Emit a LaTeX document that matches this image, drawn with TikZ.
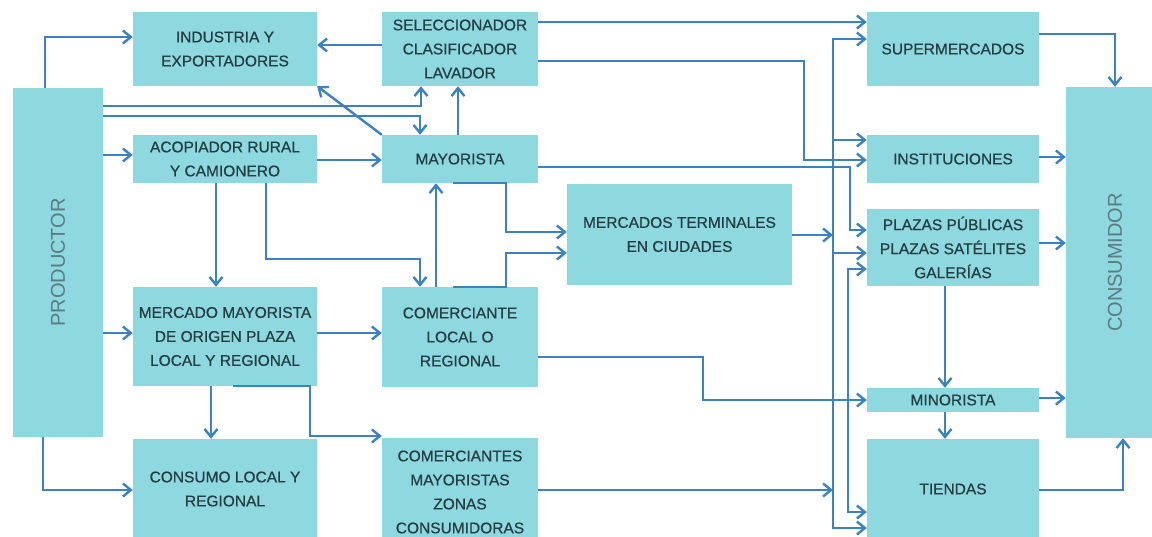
\documentclass[tikz,border=0pt]{standalone}
\usepackage{fontspec}
\setmainfont{Liberation Sans}
\usetikzlibrary{arrows.meta}
\definecolor{boxfill}{HTML}{8ED8E0}
\definecolor{linec}{HTML}{3A82C2}
\definecolor{txt}{HTML}{243F44}
\definecolor{txtl}{HTML}{5A7C82}
\begin{document}
\begin{tikzpicture}[x=1pt, y=-1pt,
  box/.style={rectangle, fill=boxfill, draw=none, inner sep=0pt, align=center, text=txt,
    font=\fontsize{15.5}{24}\selectfont\addfontfeature{FakeBold=0.7}},
  arr/.style={draw=linec, line width=2.4pt, line join=miter, -{Straight Barb[length=8pt,width=13pt]}},
  arrb/.style={draw=linec, line width=2.4pt, {Straight Barb[length=8pt,width=13pt]}-{Straight Barb[length=8pt,width=13pt]}}]
\useasboundingbox (0,0) rectangle (1152,536);
\clip (0,0) rectangle (1152,536);
\fill[white] (0,0) rectangle (1152,536);

% boxes
\node[box, minimum width=90pt, minimum height=349pt] (prod) at (58,262.5)
  {\rotatebox{90}{\fontsize{20}{20}\selectfont\addfontfeature{FakeBold=0}\color{txtl}PRODUCTOR}};
\node[box, minimum width=184pt, minimum height=74pt] (ind) at (225,49) {INDUSTRIA Y\\EXPORTADORES};
\node[box, minimum width=156pt, minimum height=74pt] (sel) at (460,49) {SELECCIONADOR\\CLASIFICADOR\\LAVADOR};
\node[box, minimum width=184pt, minimum height=48pt] (acop) at (225,159) {ACOPIADOR RURAL\\Y CAMIONERO};
\node[box, minimum width=156pt, minimum height=48pt] (may) at (460,159) {MAYORISTA};
\node[box, minimum width=225pt, minimum height=101pt] (merc) at (679.5,234.5) {MERCADOS TERMINALES\\EN CIUDADES};
\node[box, minimum width=184pt, minimum height=99pt] (mmo) at (225,336.5) {MERCADO MAYORISTA\\DE ORIGEN PLAZA\\LOCAL Y REGIONAL};
\node[box, minimum width=156pt, minimum height=100pt] (com) at (460,337) {COMERCIANTE\\LOCAL O\\REGIONAL};
\node[box, minimum width=184pt, minimum height=100pt] (cons) at (225,489) {CONSUMO LOCAL Y\\REGIONAL};
\node[box, minimum width=156pt, minimum height=108pt] (cmz) at (460,492) {COMERCIANTES\\MAYORISTAS\\ZONAS\\CONSUMIDORAS};
\node[box, minimum width=172pt, minimum height=74pt] (sup) at (953,49) {SUPERMERCADOS};
\node[box, minimum width=172pt, minimum height=48pt] (inst) at (953,159) {INSTITUCIONES};
\node[box, minimum width=172pt, minimum height=77pt] (plaz) at (953,247.5) {PLAZAS PÚBLICAS\\PLAZAS SATÉLITES\\GALERÍAS};
\node[box, minimum width=172pt, minimum height=24pt] (mino) at (953,400) {MINORISTA};
\node[box, minimum width=172pt, minimum height=100pt] (tien) at (953,489) {TIENDAS};
\node[box, minimum width=86pt, minimum height=351pt] (cmr) at (1109,262.5)
  {\hspace*{12pt}\rotatebox{90}{\fontsize{20}{20}\selectfont\addfontfeature{FakeBold=0}\color{txtl}CONSUMIDOR}};

% hub coordinates
\coordinate (hub) at (833,253);
\coordinate (busS) at (833,490);
\coordinate (busM) at (833,235);

% connectors
\draw[arr] (prod.north -| 45,0) |- (ind.west |- 0,37);
\draw[arr] (prod.east |- 0,106) -| (sel.south -| 421,0);
\draw[arr] (prod.east |- 0,116) -| (may.north -| 420,0);
\draw[arr] (may.north west) -- (ind.south east);
\draw[arr] (sel.west |- 0,45) -- (ind.east |- 0,45);
\draw[arr] (may.north -| 458,0) -- (sel.south -| 458,0);
\draw[arr] (prod.east |- 0,155) -- (acop.west |- 0,155);
\draw[arr] (acop.east |- 0,160) -- (may.west |- 0,160);
\draw[arr] (acop.south -| 216,0) -- (mmo.north -| 216,0);
\draw[arr] (acop.south -| 266,0) -- (266,259) -| (com.north -| 420,0);
\draw[arr] (com.north -| 436,0) -- (may.south -| 436,0);
\draw[arr] (may.south -| 453,0) -| (506,232) -- (merc.west |- 0,232);
\draw[arr] (com.north -| 453,0) -| (506,253) -- (merc.west |- 0,253);
\draw[arr] (prod.east |- 0,333) -- (mmo.west |- 0,333);
\draw[arr] (mmo.east |- 0,333) -- (com.west |- 0,333);
\draw[arr] (mmo.south -| 211,0) -- (cons.north -| 211,0);
\draw[arr] (mmo.south -| 233,0) -| (310,436) -- (cmz.west |- 0,436);
\draw[arr] (prod.south -| 43,0) |- (cons.west |- 0,490);
\draw[arr] (cmz.east |- 0,490) -- (busS);

\draw[arr] (sel.east |- 0,22) -- (sup.west |- 0,22);
\draw[arr] (sel.east |- 0,61) -| (804,160) -- (inst.west |- 0,160);
\draw[arr] (hub) |- (sup.west |- 0,39);
\draw[arr] (hub) |- (inst.west |- 0,140);
\draw[arr] (hub) -- (plaz.west |- 0,253);
\draw[arr] (hub) |- (tien.west |- 0,528);
\draw[arr] (merc.east |- 0,235) -- (busM);
\draw[arr] (may.east |- 0,167) -| (850,230) -- (plaz.west |- 0,230);
\draw[arrb] (plaz.west |- 0,269) -| (848,390) |- (tien.west |- 0,512);
\draw[arr] (com.east |- 0,357) -| (703,400) -- (mino.west |- 0,400);

\draw[arr] (sup.east |- 0,34) -| (cmr.north -| 1115,0);
\draw[arr] (inst.east |- 0,157) -- (cmr.west |- 0,157);
\draw[arr] (plaz.east |- 0,243) -- (cmr.west |- 0,243);
\draw[arr] (plaz.south -| 945,0) -- (mino.north -| 945,0);
\draw[arr] (mino.east |- 0,398) -- (cmr.west |- 0,398);
\draw[arr] (mino.south -| 945,0) -- (tien.north -| 945,0);
\draw[arr] (tien.east |- 0,490) -| (cmr.south -| 1123,0);
\end{tikzpicture}
\end{document}
